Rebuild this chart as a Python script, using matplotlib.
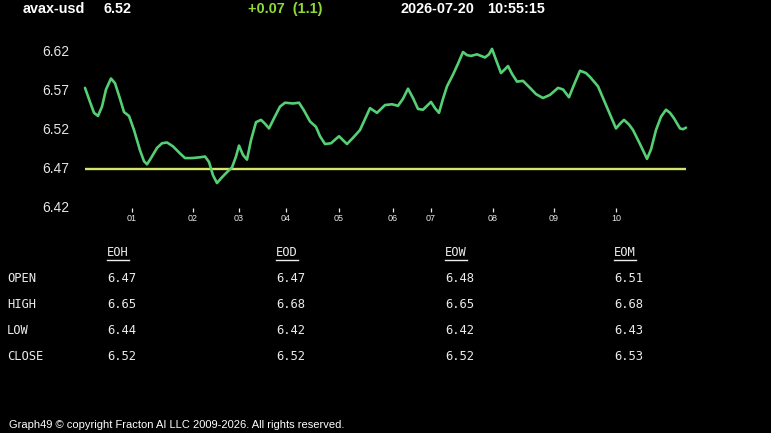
import matplotlib
matplotlib.use("Agg")
import matplotlib.pyplot as plt
from matplotlib.lines import Line2D

# ---------------- data ----------------
symbol = "avax-usd"
last_price = "6.52"
change_text = "+0.07  (1.1)"
date_text = "2026-07-20"
time_text = "10:55:15"

t = [0, 5, 9, 13, 17, 21, 26, 30, 35, 39, 44, 49, 55, 59, 62, 66, 72, 77, 82, 88,
     95, 100, 107, 115, 120, 124, 128, 132, 136, 142, 147, 151, 154, 158, 162, 166,
     171, 176, 180, 184, 189, 195, 200, 208, 214, 219, 225, 231, 235, 240, 246, 254,
     262, 268, 275, 280, 285, 292, 300, 307, 313, 318, 323, 328, 333, 338, 346, 350,
     354, 358, 362, 368, 373, 378, 382, 386, 392, 400, 404, 407, 411, 416, 420, 423,
     427, 432, 438, 445, 451, 458, 465, 473, 478, 484, 489, 495, 501, 505, 513, 521,
     531, 535, 539, 544, 548, 555, 562, 566, 571, 576, 581, 585, 589, 595, 598, 601]
price = [6.574, 6.556, 6.542, 6.538, 6.550, 6.572, 6.586, 6.580, 6.560, 6.543, 6.538,
         6.520, 6.494, 6.480, 6.476, 6.484, 6.497, 6.503, 6.504, 6.499, 6.490, 6.484,
         6.484, 6.485, 6.486, 6.479, 6.462, 6.452, 6.458, 6.466, 6.472, 6.486, 6.500,
         6.488, 6.482, 6.507, 6.530, 6.533, 6.528, 6.522, 6.535, 6.550, 6.555, 6.554,
         6.555, 6.545, 6.531, 6.524, 6.512, 6.502, 6.503, 6.512, 6.502, 6.510, 6.520,
         6.534, 6.548, 6.542, 6.552, 6.553, 6.551, 6.560, 6.573, 6.561, 6.547, 6.546,
         6.556, 6.548, 6.542, 6.560, 6.576, 6.591, 6.605, 6.620, 6.616, 6.615, 6.617,
         6.613, 6.617, 6.624, 6.610, 6.593, 6.598, 6.602, 6.592, 6.582, 6.583, 6.574,
         6.566, 6.561, 6.565, 6.574, 6.572, 6.562, 6.578, 6.596, 6.593, 6.588, 6.576,
         6.552, 6.522, 6.528, 6.533, 6.527, 6.520, 6.502, 6.483, 6.495, 6.520, 6.537,
         6.546, 6.542, 6.535, 6.522, 6.521, 6.523]
reference_level = 6.47

x_tick_pos = [46.5, 107.5, 154, 200.5, 254, 308, 346, 408, 469, 531]
x_tick_labels = ["01", "02", "03", "04", "05", "06", "07", "08", "09", "10"]
y_ticks = [6.42, 6.47, 6.52, 6.57, 6.62]
y_tick_labels = ["6.42", "6.47", "6.52", "6.57", "6.62"]

col_headers = ["EOH", "EOD", "EOW", "EOM"]
row_labels = ["OPEN", "HIGH", "LOW", "CLOSE"]
eoh = ["6.47", "6.65", "6.44", "6.52"]
eod = ["6.47", "6.68", "6.42", "6.52"]
eow = ["6.48", "6.65", "6.42", "6.52"]
eom = ["6.51", "6.68", "6.43", "6.53"]
footer = "Graph49 \u00a9 copyright Fracton AI LLC 2009-2026. All rights reserved."

# ---------------- figure ----------------
W, H = 771, 433
fig = plt.figure(figsize=(W / 100, H / 100), dpi=100, facecolor="black")

def fx(px):
    return px / W

def fy(py):
    return 1 - py / H

ax = fig.add_axes([fx(85), fy(208), fx(686) - fx(85), fy(52) - fy(208)])
ax.set_facecolor("black")
for s in ax.spines.values():
    s.set_visible(False)

ax.plot([t[0], t[-1]], [reference_level, reference_level], color="#d6e46a",
        lw=1.7, solid_capstyle="butt", zorder=2)
ax.plot(t, price, color="#55cf74", lw=1.9, solid_joinstyle="round",
        solid_capstyle="round", clip_on=False, zorder=3)

ax.set_xlim(0, 601)
ax.set_ylim(6.42, 6.62)
ax.set_xticks(x_tick_pos)
ax.set_xticklabels(x_tick_labels, fontsize=6.5, color="#e8e8e8",
                   family="Liberation Sans")
ax.tick_params(axis="x", colors="#e8e8e8", length=3, width=0.9, pad=1.5,
               direction="out")
ax.set_yticks([])

for v, lab in zip(y_ticks, y_tick_labels):
    ax.text(-43, v, lab, transform=ax.transData, ha="left", va="center",
            fontsize=10, color="#e6e6e6", family="Liberation Sans", clip_on=False)

# ---------------- header ----------------
hy = fy(9)
hs = 10.4
fig.text(fx(23), hy, symbol, color="white", fontsize=hs, fontweight="bold",
         family="Liberation Sans", va="center", ha="left")
fig.text(fx(103), hy, last_price, color="white", fontsize=hs, fontweight="bold",
         family="Liberation Sans", va="center", ha="left")
fig.text(fx(248), hy, change_text, color="#8fd83c", fontsize=hs, fontweight="bold",
         family="Liberation Sans", va="center", ha="left")
fig.text(fx(400), hy, date_text, color="white", fontsize=hs, fontweight="bold",
         family="Liberation Sans", va="center", ha="left")
fig.text(fx(487), hy, time_text, color="white", fontsize=hs, fontweight="bold",
         family="Liberation Sans", va="center", ha="left")

# ---------------- table ----------------
mono = "DejaVu Sans Mono"
tcol = "#ececec"
col_x = [107, 276, 445, 614]
row_y = [279, 304, 330, 356]
header_y = 253
columns = [eoh, eod, eow, eom]
ts = 8.7

fig.canvas.draw()
renderer = fig.canvas.get_renderer()
for cx, head, vals in zip(col_x, col_headers, columns):
    ht = fig.text(fx(cx), fy(header_y), head, color=tcol, fontsize=ts,
                  family=mono, va="center", ha="left")
    bb = ht.get_window_extent(renderer=renderer)
    fig.add_artist(Line2D([bb.x0 / W, bb.x1 / W], [fy(259.5), fy(259.5)],
                          transform=fig.transFigure, color=tcol, lw=1.0))
    for ry, val in zip(row_y, vals):
        fig.text(fx(cx), fy(ry), val, color=tcol, fontsize=ts, family=mono,
                 va="center", ha="left")
for ry, lab in zip(row_y, row_labels):
    fig.text(fx(7), fy(ry), lab, color=tcol, fontsize=ts, family=mono,
             va="center", ha="left")

# ---------------- footer ----------------
fig.text(fx(9), fy(425), footer, color="white", fontsize=8.0,
         family="Liberation Sans", va="center", ha="left")

fig.savefig("out.png", dpi=100, facecolor="black")
